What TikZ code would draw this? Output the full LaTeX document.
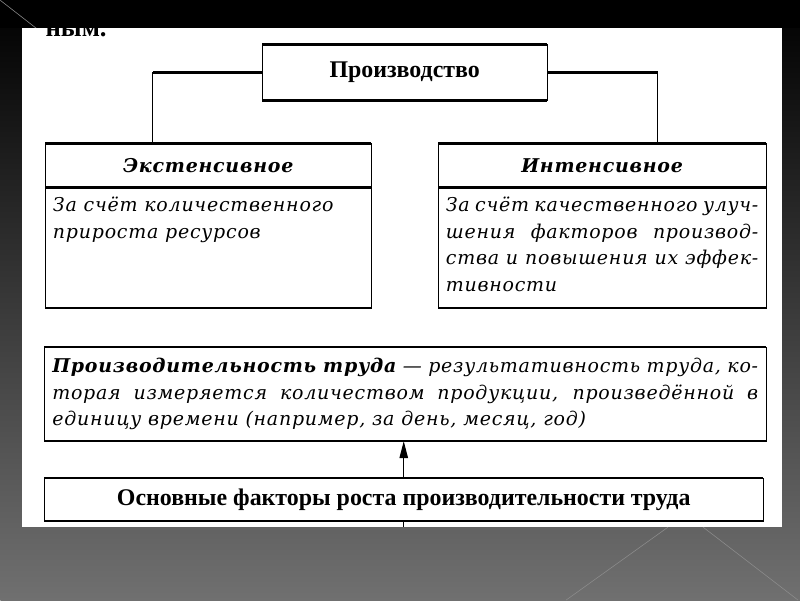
\documentclass[tikz,border=0pt]{standalone}
\usepackage{fontspec}
\setmainfont{Liberation Serif}
\newfontfamily\bookfont[LetterSpace=4]{DejaVu Serif}
\usetikzlibrary{calc, positioning, arrows.meta}
\definecolor{bgmid}{RGB}{30,30,30}
\definecolor{bgbottom}{RGB}{112,112,112}
\definecolor{streak}{RGB}{140,140,140}

\begin{document}
\begin{tikzpicture}[
    x=0.025cm, y=-0.025cm,
    frame/.style={draw=black, line width=0.8pt, inner sep=0pt, outer sep=0pt},
    hbox/.style={frame, font=\bfseries\fontsize{17}{20}\selectfont},
    tbox/.style={frame, minimum height=1.1cm, font=\bookfont\bfseries\itshape\fontsize{13.5}{15}\selectfont},
    bbox/.style={frame, inner xsep=5.5pt, font=\bookfont\itshape\fontsize{13.5}{19}\selectfont},
    hedge/.style={line width=1.8pt},
    link/.style={line width=0.8pt},
]
% === Background of the slide ===
\shade[top color=black, middle color=bgmid, bottom color=bgbottom] (0,0) rectangle (800,600);
\fill[black] (0,0) rectangle (800,28);
\draw[streak, line width=0.4pt] (0,0) -- (36,28);
\draw[streak, line width=0.4pt] (668,527) -- (566,600);
\draw[streak, line width=0.4pt] (703,527) -- (798,600);
\fill[white] (22,28) rectangle (782,527);

% cut-off line of the text above
\begin{scope}
\clip (22,28) rectangle (782,527);
\node[font=\bfseries\fontsize{19}{22}\selectfont, anchor=base west, inner sep=0pt] (prevline) at (45,36) {ным.};
\end{scope}

% === Production and its two types ===
\node[hbox, minimum width=7.125cm, minimum height=1.4cm, anchor=north west] (prod) at (262,44) {Производство};

\node[tbox, minimum width=8.15cm, anchor=north west] (ext) at (45,143) {Экстенсивное};
\node[bbox, below=0pt of ext] (extbody) {%
    \parbox[c][3.025cm][t]{\dimexpr8.15cm-11pt\relax}{\vspace*{4pt}\strut За счёт количественного\newline прироста ресурсов}};

\node[tbox, minimum width=8.2cm, anchor=north west] (int) at (438,143) {Интенсивное};
\node[bbox, below=0pt of int] (intbody) {%
    \parbox[c][3.025cm][t]{\dimexpr8.2cm-11pt\relax}{\vspace*{4pt}\strut За счёт качественного улуч-\linebreak шения факторов производ-\linebreak ства и повышения их эффек-\linebreak тивности}};

\coordinate (extjoin) at ($(ext.north west)!0.33!(ext.north east)$);
\coordinate (intjoin) at ($(int.north west)!0.67!(int.north east)$);
\draw[hedge] (prod.west) -- (prod.west -| extjoin);
\draw[link] (prod.west -| extjoin) -- (extjoin);
\draw[hedge] (prod.east) -- (prod.east -| intjoin);
\draw[link] (prod.east -| intjoin) -- (intjoin);

% === Labour productivity ===
\node[bbox, inner xsep=5.7pt, text width=\dimexpr18.05cm-11.4pt\relax, minimum height=2.35cm, align=justify, anchor=north west] (prodtr) at (44,347) {%
    \textbf{Производительность труда} — результативность труда, ко-\linebreak торая измеряется количеством продукции, произведённой в\linebreak единицу времени (например, за день, месяц, год)};

\node[hbox, minimum width=17.975cm, minimum height=1.075cm, anchor=north west] (factors) at (44,478) {Основные факторы роста производительности труда};

% thick top and bottom edges
\foreach \n in {prod, ext, extbody, int, intbody, prodtr, factors}
    \draw[hedge] (\n.north west) -- (\n.north east) (\n.south west) -- (\n.south east);

\draw[link, -{Triangle[length=12pt, width=6pt]}] (factors.north) -- (factors.north |- prodtr.south);
\coordinate (tail) at ($(factors.south)+(0,6)$);
\draw[link] (factors.south) -- (tail);
\end{tikzpicture}
\end{document}
